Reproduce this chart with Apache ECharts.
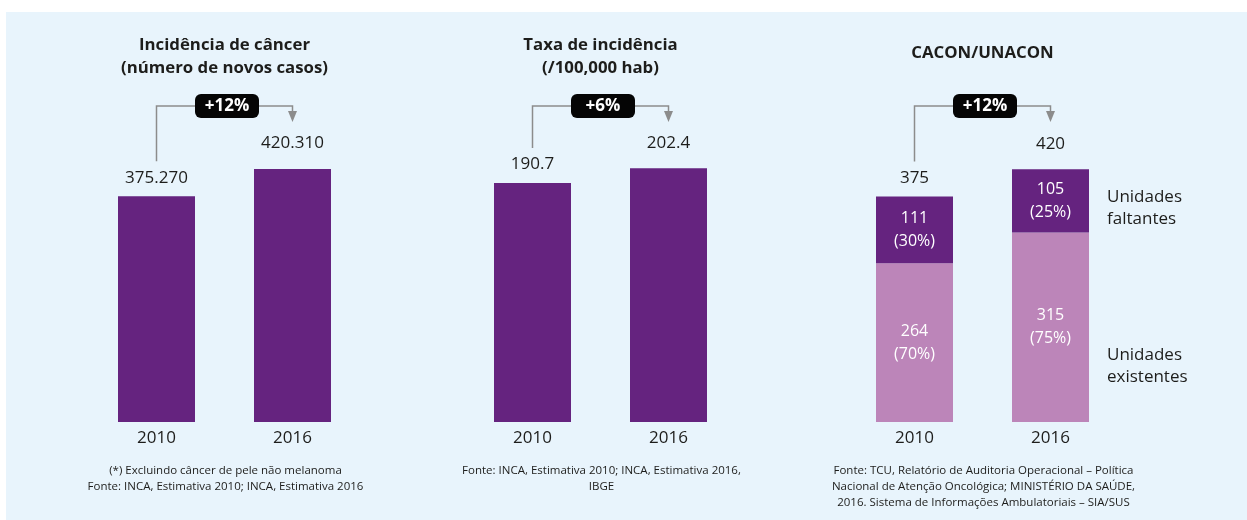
<!DOCTYPE html>
<html>
<head>
<meta charset="utf-8">
<script src="https://cdn.jsdelivr.net/npm/echarts@6/dist/echarts.min.js"></script>
<style>
  html, body { margin: 0; padding: 0; background: #ffffff; }
  #chart { width: 1247px; height: 520px; }
</style>
</head>
<body>
<div id="chart"></div>
<script>
// ---- data ----
const years = ['2010', '2016'];
const newCases = [375270, 420310];          // número de novos casos
const incidenceRate = [190.7, 202.4];       // /100,000 hab
const unitsExisting = [264, 315];           // CACON/UNACON existentes
const unitsMissing = [111, 105];            // CACON/UNACON faltantes

const panelTitles = [
  ['Incidência de câncer', '(número de novos casos)'],
  ['Taxa de incidência', '(/100,000 hab)'],
  ['CACON/UNACON']
];
const panelNotes = [
  ['(*) Excluindo câncer de pele não melanoma', 'Fonte: INCA, Estimativa 2010; INCA, Estimativa 2016'],
  ['Fonte: INCA, Estimativa 2010; INCA, Estimativa 2016,', 'IBGE'],
  ['Fonte: TCU, Relatório de Auditoria Operacional – Política',
   'Nacional de Atenção Oncológica; MINISTÉRIO DA SAÚDE,',
   '2016. Sistema de Informações Ambulatoriais – SIA/SUS']
];
const missingLabel = ['Unidades', 'faltantes'];
const existingLabel = ['Unidades', 'existentes'];

// ---- style ----
const FONT = '"Open Sans", Lato, "Noto Sans", sans-serif';
const DARK = '#65237f';
const LIGHT = '#bc85b9';
const INK = '#1d1d1b';
const GREY = '#8c8c8c';
const BG = '#e8f4fc';

const unitsTotal = unitsExisting.map((v, i) => v + unitsMissing[i]);

function ptThousands(v) {
  return String(Math.round(v)).replace(/\B(?=(\d{3})+(?!\d))/g, '.');
}
function pctChange(a, b) {
  return '+' + Math.round((b / a - 1) * 100) + '%';
}

// label sits a bit higher above the later year
const topDistance = [10, 17];

function topLabelData(values) {
  return values.map((v, i) => ({ value: v, label: { distance: topDistance[i] } }));
}

const valueLabel = {
  show: true,
  position: 'top',
  fontFamily: FONT,
  fontSize: 17,
  color: INK
};

const panels = [
  { left: 88.5, top: 61, height: 361, max: 600000 },
  { left: 464.5, top: 46, height: 376, max: 300 },
  { left: 846.5, top: 61, height: 361, max: 600 }
];

const chart = echarts.init(document.getElementById('chart'), null, { renderer: 'canvas' });

const option = {
  backgroundColor: '#ffffff',
  animation: false,
  grid: panels.map(p => ({ left: p.left, top: p.top, width: 272, height: p.height })),
  xAxis: panels.map((p, i) => ({
    type: 'category',
    gridIndex: i,
    data: years,
    axisLine: { show: false },
    axisTick: { show: false },
    axisLabel: { fontFamily: FONT, fontSize: 17, color: INK, margin: 8 }
  })),
  yAxis: panels.map((p, i) => ({
    type: 'value',
    gridIndex: i,
    min: 0,
    max: p.max,
    show: false,
    splitLine: { show: false }
  })),
  series: [
    {
      type: 'bar',
      xAxisIndex: 0, yAxisIndex: 0,
      barWidth: 77,
      itemStyle: { color: DARK },
      label: Object.assign({}, valueLabel, { formatter: p => ptThousands(p.value) }),
      data: topLabelData(newCases)
    },
    {
      type: 'bar',
      xAxisIndex: 1, yAxisIndex: 1,
      barWidth: 77,
      itemStyle: { color: DARK },
      label: Object.assign({}, valueLabel, { formatter: p => String(p.value) }),
      data: topLabelData(incidenceRate)
    },
    {
      name: 'Unidades existentes',
      type: 'bar',
      stack: 'units',
      xAxisIndex: 2, yAxisIndex: 2,
      barWidth: 77,
      itemStyle: { color: LIGHT },
      label: {
        show: true, position: 'inside',
        fontFamily: FONT, fontSize: 16, lineHeight: 23, color: '#ffffff',
        formatter: p => p.value + '\n(' + Math.round(p.value / unitsTotal[p.dataIndex] * 100) + '%)'
      },
      data: unitsExisting
    },
    {
      name: 'Unidades faltantes',
      type: 'bar',
      stack: 'units',
      xAxisIndex: 2, yAxisIndex: 2,
      barWidth: 77,
      itemStyle: { color: DARK },
      label: {
        show: true, position: 'inside',
        fontFamily: FONT, fontSize: 16, lineHeight: 23, color: '#ffffff',
        formatter: p => p.value + '\n(' + Math.round(p.value / unitsTotal[p.dataIndex] * 100) + '%)'
      },
      data: unitsMissing
    },
    {
      // invisible overlay carrying the totals above the stacks
      name: 'Total',
      type: 'bar',
      xAxisIndex: 2, yAxisIndex: 2,
      barWidth: 77,
      barGap: '-100%',
      silent: true,
      itemStyle: { color: 'rgba(0,0,0,0)' },
      label: Object.assign({}, valueLabel, { formatter: p => String(p.value) }),
      data: topLabelData(unitsTotal)
    }
  ]
};

chart.setOption(option);

// ---- annotations: titles, change brackets, notes, side labels ----
const panelValues = [newCases, incidenceRate, unitsTotal];
const graphics = [];

graphics.push({
  type: 'rect', z: -10, silent: true,
  shape: { x: 6, y: 12, width: 1241, height: 508 },
  style: { fill: BG }
});

const BRACKET_Y = 106;
const ARROW_TIP = 122;

panelValues.forEach((vals, i) => {
  const a = chart.convertToPixel({ xAxisIndex: i, yAxisIndex: i }, [years[0], vals[0]]);
  const b = chart.convertToPixel({ xAxisIndex: i, yAxisIndex: i }, [years[1], vals[1]]);
  const mid = (a[0] + b[0]) / 2;

  // title
  const t = panelTitles[i];
  graphics.push({
    type: 'text', silent: true,
    style: {
      text: t.join('\n'),
      x: mid, y: t.length > 1 ? 56.5 : 53,
      align: 'center', verticalAlign: 'middle',
      font: 'bold 16.8px ' + FONT, lineHeight: 23, fill: INK
    }
  });

  // bracket from the first bar to the second
  graphics.push({
    type: 'polyline', silent: true,
    shape: { points: [[a[0], a[1] - 35], [a[0], BRACKET_Y], [b[0], BRACKET_Y], [b[0], ARROW_TIP - 8]] },
    style: { stroke: GREY, lineWidth: 1.5, fill: null }
  });
  graphics.push({
    type: 'polygon', silent: true,
    shape: { points: [[b[0] - 4.5, ARROW_TIP - 11], [b[0] + 4.5, ARROW_TIP - 11], [b[0], ARROW_TIP]] },
    style: { fill: GREY }
  });

  // change badge
  graphics.push({
    type: 'rect', silent: true,
    shape: { x: mid + 2.5 - 32, y: BRACKET_Y - 12, width: 64, height: 24, r: 6 },
    style: { fill: '#050505' }
  });
  graphics.push({
    type: 'text', silent: true,
    style: {
      text: pctChange(vals[0], vals[1]),
      x: mid + 2.5, y: BRACKET_Y,
      align: 'center', verticalAlign: 'middle',
      font: 'bold 17px ' + FONT, fill: '#ffffff'
    }
  });

  // source notes
  graphics.push({
    type: 'text', silent: true,
    style: {
      text: panelNotes[i].join('\n'),
      x: mid + 1, y: 463,
      align: 'center', verticalAlign: 'top',
      font: '11.5px ' + FONT, lineHeight: 16, fill: INK
    }
  });
});

// side labels next to the stacked bars
graphics.push({
  type: 'text', silent: true,
  style: {
    text: missingLabel.join('\n'), x: 1107, y: 208,
    align: 'left', verticalAlign: 'middle',
    font: '17px ' + FONT, lineHeight: 22, fill: INK
  }
});
graphics.push({
  type: 'text', silent: true,
  style: {
    text: existingLabel.join('\n'), x: 1107, y: 366,
    align: 'left', verticalAlign: 'middle',
    font: '17px ' + FONT, lineHeight: 22, fill: INK
  }
});

chart.setOption({ graphic: graphics });
</script>
</body>
</html>
